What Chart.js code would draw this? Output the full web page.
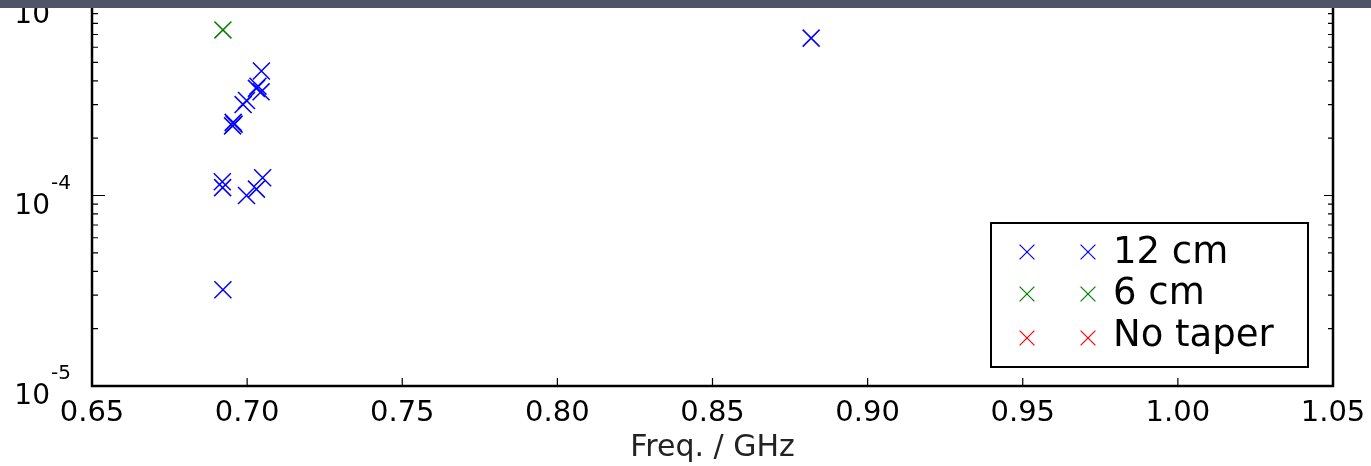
<!DOCTYPE html>
<html>
<head>
<meta charset="utf-8">
<script src="https://cdn.jsdelivr.net/npm/chart.js@4.4.1/dist/chart.umd.min.js"></script>
<style>
  body { margin: 0; background: #fff; }
  #wrap { position: relative; width: 1371px; height: 466px; overflow: hidden; }
  #band { position: absolute; top: 0; left: 0; width: 1371px; height: 8px; background: #4f5469; }
  canvas { display: block; }
</style>
</head>
<body>
<div id="wrap">
  <canvas id="plot" width="1371" height="466"></canvas>
  <div id="band"></div>
</div>
<script>
// series (freq in GHz, value on log axis)
const freq12cm = [0.7046, 0.7035, 0.7045, 0.7030, 0.6998, 0.6987, 0.6955, 0.6953, 0.6958,
                  0.6920, 0.6921, 0.7050, 0.7030, 0.6998, 0.6922, 0.8818];
const val12cm  = [4.5e-4, 3.75e-4, 3.5e-4, 3.65e-4, 3.15e-4, 3.0e-4, 2.42e-4, 2.32e-4, 2.37e-4,
                  1.18e-4, 1.10e-4, 1.24e-4, 1.08e-4, 1.0e-4, 3.2e-5, 6.7e-4];
const freq6cm = [0.6922];
const val6cm  = [7.4e-4];
const freqNoTaper = [];
const valNoTaper  = [];

const seriesNames = ['12 cm', '6 cm', 'No taper'];
const seriesColors = ['#0000ff', '#008000', '#ff0000'];

const xTicks = [0.65, 0.70, 0.75, 0.80, 0.85, 0.90, 0.95, 1.00, 1.05];
const yTicks = [1e-5, 1e-4, 1e-3];

const FONT = 'DejaVu Sans';

function toPoints(xs, ys) {
    return xs.map((x, i) => ({ x: x, y: ys[i] }));
}

const datasets = [
    [freq12cm, val12cm],
    [freq6cm, val6cm],
    [freqNoTaper, valNoTaper],
].map(([xs, ys], i) => ({
    label: seriesNames[i],
    data: toPoints(xs, ys),
    pointStyle: 'crossRot',
    pointRadius: 12,
    pointBorderWidth: 1.5,
    borderColor: seriesColors[i],
    backgroundColor: seriesColors[i],
    showLine: false,
}));

// frame, inside ticks, y labels with exponents and the legend box
const framePlugin = {
    id: 'frame',
    afterDraw(chart) {
        const ctx = chart.ctx;
        const a = chart.chartArea;
        const xs = chart.scales.x;
        const ys = chart.scales.y;
        ctx.save();
        ctx.strokeStyle = '#000';

        // ticks
        ctx.lineWidth = 1.2;
        ctx.beginPath();
        xTicks.forEach(v => {
            const px = xs.getPixelForValue(v);
            ctx.moveTo(px, a.bottom); ctx.lineTo(px, a.bottom - 8);
        });
        for (let d = -5; d < -3; d++) {
            for (let k = 1; k < 10; k++) {
                const py = ys.getPixelForValue(k * Math.pow(10, d));
                const len = k === 1 ? 13 : 6;
                ctx.moveTo(a.left, py); ctx.lineTo(a.left + len, py);
                ctx.moveTo(a.right, py); ctx.lineTo(a.right - (k === 1 ? 9 : 5), py);
            }
        }
        ctx.stroke();

        // frame
        ctx.lineWidth = 2.5;
        ctx.strokeRect(a.left, a.top, a.right - a.left, a.bottom - a.top);

        // y tick labels 10^n
        ctx.fillStyle = '#000';
        ctx.textBaseline = 'alphabetic';
        yTicks.forEach(v => {
            const py = ys.getPixelForValue(v);
            const exp = Math.round(Math.log10(v));
            ctx.font = '28px "' + FONT + '"';
            ctx.textAlign = 'right';
            ctx.fillText('10', 50, py + 18);
            ctx.font = '20px "' + FONT + '"';
            ctx.textAlign = 'left';
            ctx.fillText(String(exp), 51, py - 7);
        });

        // legend
        const lx = 991, ly = 223, lw = 317, lh = 144;
        ctx.fillStyle = '#fff';
        ctx.fillRect(lx, ly, lw, lh);
        ctx.strokeStyle = '#000';
        ctx.lineWidth = 2;
        ctx.strokeRect(lx, ly, lw, lh);
        const rowY = [252, 294, 338];
        const baseY = [263, 304, 346];
        chart.data.datasets.forEach((ds, i) => {
            [1027, 1088].forEach(mx => {
                ctx.strokeStyle = ds.borderColor;
                ctx.lineWidth = 1.2;
                ctx.beginPath();
                const h = 7.4;
                ctx.moveTo(mx - h, rowY[i] - h); ctx.lineTo(mx + h, rowY[i] + h);
                ctx.moveTo(mx - h, rowY[i] + h); ctx.lineTo(mx + h, rowY[i] - h);
                ctx.stroke();
            });
            ctx.fillStyle = '#000';
            ctx.font = '37px "' + FONT + '"';
            ctx.textAlign = 'left';
            ctx.fillText(ds.label, 1113, baseY[i]);
        });
        ctx.restore();
    }
};

const chart = new Chart(document.getElementById('plot').getContext('2d'), {
    type: 'scatter',
    data: { datasets: datasets },
    options: {
        responsive: false,
        animation: false,
        layout: { autoPadding: false, padding: { top: 5, right: 38, left: 0, bottom: 0 } },
        plugins: {
            legend: { display: false },
            tooltip: { enabled: false },
        },
        scales: {
            x: {
                type: 'linear',
                min: 0.65,
                max: 1.05,
                grid: { display: false, drawTicks: false },
                border: { display: false },
                afterBuildTicks: scale => { scale.ticks = xTicks.map(v => ({ value: v })); },
                afterFit: scale => {
                    scale.height = 80;
                    scale.paddingLeft = 0;
                    scale.paddingRight = 0;
                },
                ticks: {
                    color: '#000',
                    padding: 10,
                    maxRotation: 0,
                    font: { family: FONT, size: 29 },
                    callback: v => Number(v).toFixed(2),
                },
                title: {
                    display: true,
                    text: 'Freq. / GHz',
                    color: '#222',
                    font: { family: FONT, size: 30 },
                    padding: { top: 0, bottom: 0 },
                },
            },
            y: {
                type: 'logarithmic',
                min: 1e-5,
                max: 1e-3,
                grid: { display: false, drawTicks: false },
                border: { display: false },
                ticks: { display: false },
                afterFit: scale => { scale.width = 92; },
            },
        },
    },
    plugins: [framePlugin],
});
</script>
</body>
</html>
